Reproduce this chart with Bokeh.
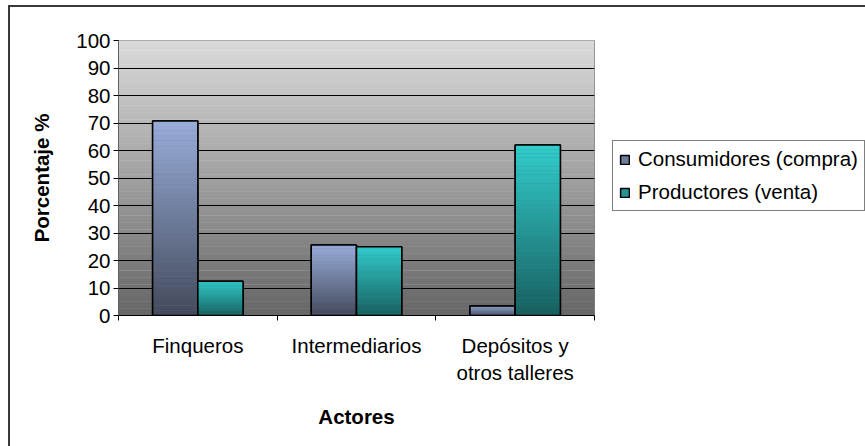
import numpy as np
from bokeh.plotting import figure
from bokeh.models import (Range1d, FixedTicker, Legend, LegendItem)
from bokeh.embed import file_html
from bokeh.resources import INLINE

# ---- data ----
categories = ["Finqueros", "Intermediarios", "Depósitos y\notros talleres"]
consumidores = [70.7, 25.6, 3.5]
productores = [12.5, 25.0, 62.0]
series_names = ["Consumidores (compra)", "Productores (venta)"]
y_ticks = list(range(0, 101, 10))

# ---- style ----
FONT = "Liberation Sans"
FS = "20.5px"
blue_top, blue_bot = (0x99, 0xAD, 0xDA), (0x42, 0x49, 0x5A)
teal_top, teal_bot = (0x33, 0xCC, 0xCC), (0x18, 0x5E, 0x5E)
bg_top, bg_bot = (0xDA, 0xDA, 0xDA), (0x66, 0x66, 0x66)
BAR_W = 0.285

def mix(c0, c1, t):
    return "#%02x%02x%02x" % tuple(int(round(a + (b - a) * t)) for a, b in zip(c0, c1))

p = figure(width=855, height=439, output_backend="svg", toolbar_location=None,
           x_range=Range1d(0, len(categories)), y_range=Range1d(0, 100),
           frame_width=476, frame_height=275,
           min_border_left=108, min_border_top=33, min_border_right=271, min_border_bottom=131)
p.styles = {"margin-top": "5px", "margin-left": "8px",
            "border-left": "2px solid #3a3a3a", "border-top": "2px solid #3a3a3a"}
p.background_fill_color = "white"
p.border_fill_color = "white"
p.outline_line_color = "#808080"
p.outline_line_width = 1

# background gradient of plot area
N_BG = 80
edges = np.linspace(0, 100, N_BG + 1)
bg_cols = [mix(bg_bot, bg_top, (k + 0.5) / N_BG) for k in range(N_BG)]
p.quad(left=0, right=len(categories), bottom=edges[:-1], top=edges[1:] + 0.15,
       fill_color=bg_cols, line_color=None, level="image")

# grid
p.xgrid.visible = False
p.ygrid.ticker = FixedTicker(ticks=y_ticks)
p.ygrid.grid_line_color = "black"
p.ygrid.grid_line_width = 1

# bars with vertical gradient
N_B = 40
xs = np.arange(len(categories)) + 0.5
legend_items = []
for vals, top_c, bot_c, offs, name in [
        (consumidores, blue_top, blue_bot, -BAR_W / 2, series_names[0]),
        (productores, teal_top, teal_bot, BAR_W / 2, series_names[1])]:
    mid = mix(bot_c, top_c, 0.5)
    base = p.vbar(x=xs + offs, width=BAR_W, top=vals, bottom=0,
                  fill_color=mid, line_color="black", line_width=1.5)
    L, R, B, T, C = [], [], [], [], []
    for x, v in zip(xs + offs, vals):
        for k in range(N_B):
            L.append(x - BAR_W / 2); R.append(x + BAR_W / 2)
            B.append(v * k / N_B); T.append(min(v, v * (k + 1) / N_B + 0.05))
            C.append(mix(bot_c, top_c, (k + 0.5) / N_B))
    p.quad(left=L, right=R, bottom=B, top=T, fill_color=C, line_color=None)
    p.vbar(x=xs + offs, width=BAR_W, top=vals, bottom=0,
           fill_color=None, line_color="black", line_width=1.5)
    legend_items.append(LegendItem(label=name, renderers=[base]))

# axes
yax = p.yaxis[0]
yax.ticker = FixedTicker(ticks=y_ticks)
yax.axis_label = "Porcentaje %"
yax.axis_label_text_font = FONT
yax.axis_label_text_font_style = "bold"
yax.axis_label_text_font_size = FS
yax.axis_label_text_color = "black"
yax.axis_label_standoff = 20
yax.major_label_text_font = FONT
yax.major_label_text_font_size = FS
yax.major_label_text_color = "black"
yax.major_label_standoff = 3
yax.major_tick_out = 5
yax.major_tick_in = 0
yax.minor_tick_out = 0
yax.minor_tick_in = 0
yax.axis_line_color = "#606060"
yax.major_tick_line_color = "black"

xax = p.xaxis[0]
xax.ticker = FixedTicker(ticks=list(xs), minor_ticks=list(range(len(categories) + 1)))
xax.major_label_overrides = {float(x): c for x, c in zip(xs, categories)}
xax.axis_label = "Actores"
xax.axis_label_text_font = FONT
xax.axis_label_text_font_style = "bold"
xax.axis_label_text_font_size = FS
xax.axis_label_text_color = "black"
xax.axis_label_standoff = 18
xax.major_label_text_font = FONT
xax.major_label_text_font_size = FS
xax.major_label_text_color = "black"
xax.major_label_standoff = 13
xax.major_tick_out = 0
xax.major_tick_in = 0
xax.minor_tick_out = 5
xax.minor_tick_in = 0
xax.minor_tick_line_color = "black"
xax.axis_line_color = "black"

legend = Legend(items=legend_items, location=(18, 104))
legend.label_text_font = FONT
legend.label_text_font_size = FS
legend.label_text_color = "black"
legend.border_line_color = "black"
legend.border_line_width = 1
legend.background_fill_color = "white"
legend.glyph_width = 11
legend.glyph_height = 11
legend.label_standoff = 8
legend.padding = 6
legend.spacing = 9
legend.margin = 0
p.add_layout(legend, "right")

open("out.html", "w").write(file_html(p, INLINE))
